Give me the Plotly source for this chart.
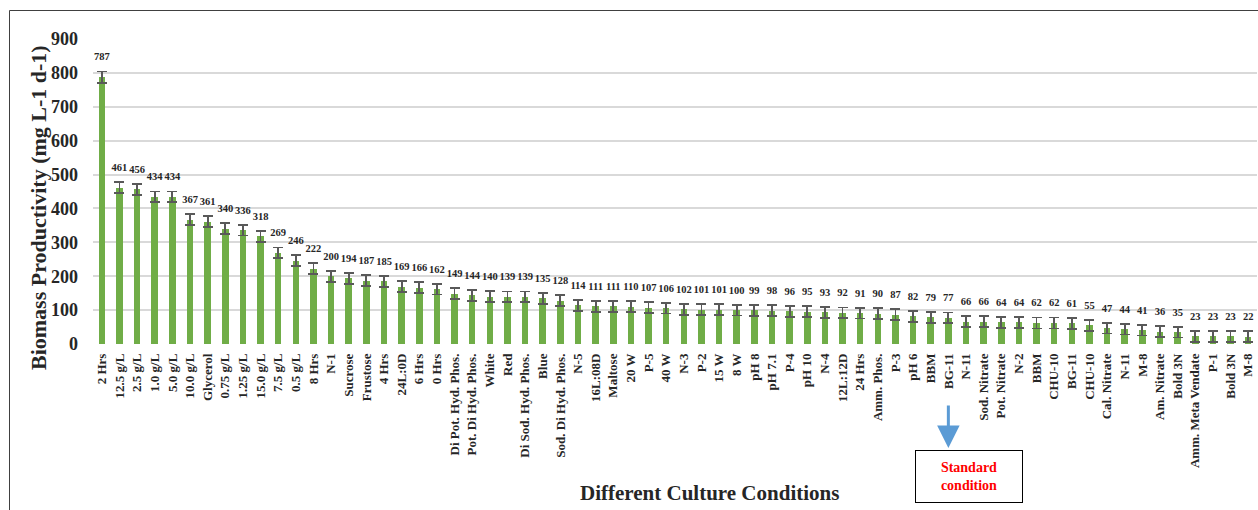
import plotly.graph_objects as go

# Culture conditions, ordered by biomass productivity
conditions = [
    "2 Hrs", "12.5 g/L", "2.5 g/L", "1.0 g/L", "5.0 g/L", "10.0 g/L", "Glycerol",
    "0.75 g/L", "1.25 g/L", "15.0 g/L", "7.5 g/L", "0.5 g/L", "8 Hrs", "N-1",
    "Sucrose", "Frustose", "4 Hrs", "24L:0D", "6 Hrs", "0 Hrs",
    "Di Pot. Hyd. Phos.", "Pot. Di Hyd. Phos.", "White", "Red",
    "Di Sod. Hyd. Phos.", "Blue", "Sod. Di Hyd. Phos.", "N-5", "16L:08D",
    "Maltose", "20 W", "P-5", "40 W", "N-3", "P-2", "15 W", "8 W", "pH 8",
    "pH 7.1", "P-4", "pH 10", "N-4", "12L:12D", "24 Hrs", "Amm. Phos.", "P-3",
    "pH 6", "BBM", "BG-11", "N-11", "Sod. Nitrate", "Pot. Nitrate", "N-2",
    "BBM", "CHU-10", "BG-11", "CHU-10", "Cal. Nitrate", "N-11", "M-8",
    "Am. Nitrate", "Bold 3N", "Amm. Meta Vendate", "P-1", "Bold 3N", "M-8",
]

# Biomass productivity (mg L-1 d-1)
productivity = [
    787, 461, 456, 434, 434, 367, 361, 340, 336, 318, 269, 246, 222, 200,
    194, 187, 185, 169, 166, 162, 149, 144, 140, 139, 139, 135, 128, 114,
    111, 111, 110, 107, 106, 102, 101, 101, 100, 99, 98, 96, 95, 93, 92,
    91, 90, 87, 82, 79, 77, 66, 66, 64, 64, 62, 62, 61, 55, 47, 44, 41,
    36, 35, 23, 23, 23, 22,
]

# Standard deviation of each measurement
std_dev = [
    17, 16, 16, 16, 16, 17, 16, 16, 16, 16, 16, 16, 16, 16,
    16, 16, 16, 16, 16, 16, 16, 16, 16, 16, 16, 16, 16, 16,
    16, 16, 16, 16, 16, 16, 16, 16, 16, 16, 16, 16, 16, 16, 16,
    16, 16, 16, 16, 16, 16, 16, 16, 16, 16, 16, 16, 16, 16, 16, 16, 16,
    16, 16, 16, 16, 16, 16,
]

y_ticks = [0, 100, 200, 300, 400, 500, 600, 700, 800, 900]

W, H = 1258, 510
ML, MR, MT, MB = 93, 1, 39, 166
PW, PH = W - ML - MR, H - MT - MB

SERIF = "Liberation Serif"
TXT = "#262626"


def px_x(px):
    return (px - ML) / PW


def px_y(py):
    return (H - MB - py) / PH


positions = list(range(len(conditions)))

fig = go.Figure()

fig.add_trace(go.Bar(
    x=positions,
    y=productivity,
    width=0.37,
    marker=dict(color="#70AD47", line=dict(width=0)),
    error_y=dict(type="data", array=std_dev, visible=True,
                 color="#595959", thickness=1.8, width=5),
    hoverinfo="skip",
    showlegend=False,
))

# Value labels above each error bar (hidden markers give the text a gap)
fig.add_trace(go.Scatter(
    x=positions,
    y=[v + e for v, e in zip(productivity, std_dev)],
    mode="markers+text",
    marker=dict(size=12, color="rgba(0,0,0,0)"),
    text=[str(v) for v in productivity],
    textposition="top center",
    textfont=dict(family=SERIF, size=10.5, color=TXT, weight="bold"),
    hoverinfo="skip",
    showlegend=False,
))

fig.update_layout(
    width=W, height=H,
    margin=dict(l=ML, r=MR, t=MT, b=MB, autoexpand=False),
    plot_bgcolor="white",
    paper_bgcolor="white",
    bargap=0,
    xaxis=dict(
        range=[-0.5, len(conditions) - 0.5],
        tickmode="array",
        tickvals=positions,
        ticktext=conditions,
        tickangle=-90,
        tickfont=dict(family=SERIF, size=13, color=TXT, weight="bold"),
        showgrid=False,
        zeroline=False,
        showline=False,
        ticks="",
        ticklabelstandoff=6,
        automargin=False,
    ),
    yaxis=dict(
        range=[0, 900],
        tickmode="array",
        tickvals=y_ticks,
        tickfont=dict(family=SERIF, size=18, color=TXT, weight="bold"),
        showgrid=True,
        gridcolor="#d9d9d9",
        gridwidth=1.5,
        zeroline=False,
        showline=False,
        ticks="",
        ticklabelstandoff=14,
        automargin=False,
    ),
    shapes=[
        # outer frame
        dict(type="rect", xref="paper", yref="paper",
             x0=px_x(9.5), x1=px_x(1270), y0=px_y(530), y1=px_y(10.5),
             line=dict(color="#404040", width=1), fillcolor="rgba(0,0,0,0)",
             layer="below"),
    ],
    annotations=[
        dict(text="Biomass Productivity (mg L-1 d-1)", xref="paper", yref="paper",
             x=px_x(38), y=px_y(208), textangle=-90, showarrow=False,
             xanchor="center", yanchor="middle",
             font=dict(family=SERIF, size=22, color=TXT, weight="bold")),
        dict(text="Different Culture Conditions", xref="paper", yref="paper",
             x=px_x(709), y=px_y(493), showarrow=False,
             xanchor="center", yanchor="middle",
             font=dict(family=SERIF, size=21, color=TXT, weight="bold")),
        # pointer to the standard condition
        dict(text="", x=conditions.index("BG-11"), xref="x",
             y=px_y(448), yref="paper", showarrow=True,
             ax=0, ay=-44, arrowhead=2, arrowsize=1.5, arrowwidth=3,
             arrowcolor="#5B9BD5"),
        dict(text="Standard<br>condition", xref="paper", yref="paper",
             x=px_x(969), y=px_y(476), showarrow=False,
             xanchor="center", yanchor="middle",
             width=106, height=51, bordercolor="#000000", borderwidth=1,
             borderpad=0, bgcolor="white", align="center",
             font=dict(family=SERIF, size=14, color="#ff0000", weight="bold")),
    ],
)

fig.write_html("out.html")
